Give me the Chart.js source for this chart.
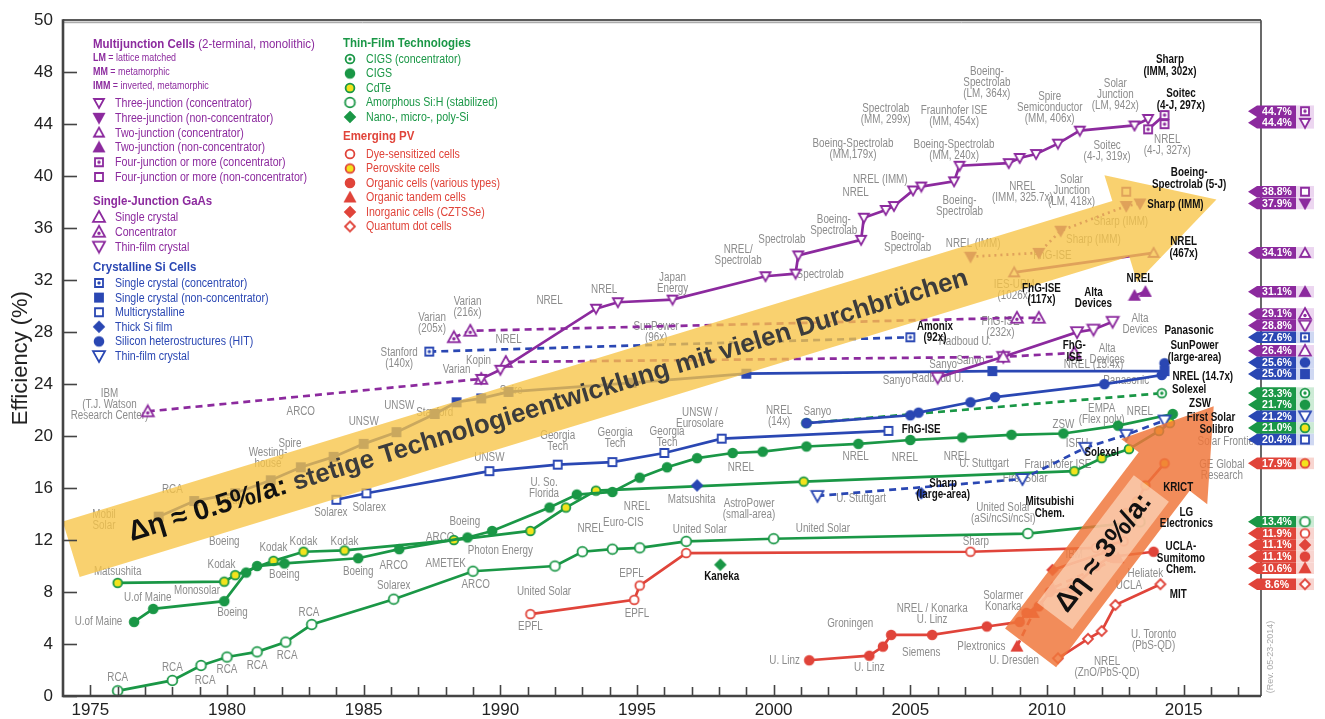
<!DOCTYPE html>
<html><head><meta charset="utf-8">
<script src="https://cdn.jsdelivr.net/npm/chart.js@4.4.1/dist/chart.umd.min.js"></script>
<style>html,body{margin:0;padding:0;background:#fff;}#wrap{width:1325px;height:719px;}</style>
</head><body><div id="wrap"><canvas id="c" width="1325" height="719"></canvas></div>
<script>
// ---------------- DATA (year, efficiency %) ----------------
const xTickYears = [1975,1980,1985,1990,1995,2000,2005,2010,2015];
const yTickValues = [0,4,8,12,16,20,24,28,32,36,40,44,48];

// Multijunction (purple)
const mj3Conc = [[1989.3,24.4],[1990.0,25.1],[1993.5,29.8],[1994.3,30.3],[1996.3,30.5],[1999.7,32.3],[2000.8,32.5],[2000.9,33.9],[2003.2,35.1],[2003.3,36.8],[2004.1,37.4],[2004.4,37.7],[2005.1,38.9],[2005.4,39.2],[2006.6,39.6],[2006.8,40.8],[2008.6,41.0],[2009.0,41.4],[2009.6,41.7],[2010.4,42.5],[2011.2,43.5],[2013.2,43.9],[2013.7,44.4]];
const mj4Conc = [[2013.7,43.6],[2014.3,44.7]];
const mj4ConcNrel = [[2014.3,44.0]];
const mj3NonConc = [[2007.2,33.8],[2009.7,34.1],[2010.5,35.8],[2012.9,37.7],[2013.4,37.9]];
const mj4NonConc = [[2012.9,38.8]];
const mj2Conc = [[2008.8,32.6],[2013.9,34.1]];
const mj2NonConc = [[2013.2,30.8],[2013.6,31.1]];
// Single-junction GaAs (purple)
const gaasConcDash = [[1977.1,21.9],[1989.3,24.4]];
const gaasConc = [[1988.3,27.6],[1988.9,28.1],[2008.9,29.1],[2009.7,29.1]];
const gaasSingle = [[1990.2,25.7],[2008.4,26.1],[2011.0,26.4]];
const gaasThin = [[2006.0,24.5],[2008.4,26.1],[2011.1,28.0],[2011.7,28.2],[2012.4,28.8]];
// Crystalline Si (blue)
const siConc = [[1987.4,26.5],[2005.0,27.6]];
const siSingle = [[1977.5,13.8],[1978.8,15.0],[1980.3,15.6],[1981.6,16.6],[1982.7,17.6],[1983.9,18.4],[1985.0,19.4],[1986.2,20.3],[1987.6,21.7],[1988.4,22.6],[1989.3,22.9],[1990.3,23.4],[1994.8,24.1],[1999.0,24.8],[2008.0,25.0],[2014.3,25.0]];
const siMulti = [[1984.0,15.1],[1985.1,15.6],[1989.6,17.3],[1992.1,17.8],[1994.1,18.0],[1996.0,18.7],[1998.1,19.8],[2004.2,20.4]];
const siThick = [[1997.2,16.2],[2005.4,15.6]];
const siHit = [[2001.2,21.0],[2005.0,21.6],[2005.3,21.8],[2007.2,22.6],[2008.1,23.0],[2012.1,24.0],[2014.2,24.7],[2014.3,25.6]];
const siThinFilm = [[2001.6,15.4],[2009.1,16.7],[2011.4,19.1],[2012.9,20.1],[2014.3,21.2]];
// Thin film (green)
const cigsConc = [[2001.2,21.0],[2014.2,23.3]];
const cigs = [[1976.6,5.7],[1977.3,6.7],[1979.9,7.3],[1980.7,9.5],[1981.1,10.0],[1982.1,10.2],[1984.8,10.6],[1986.3,11.3],[1988.8,12.2],[1989.7,12.7],[1991.8,14.5],[1992.8,15.5],[1994.1,15.7],[1995.1,16.8],[1996.1,17.6],[1997.2,18.3],[1998.5,18.7],[1999.6,18.8],[2001.2,19.2],[2003.1,19.4],[2005.0,19.7],[2006.9,19.9],[2008.7,20.1],[2010.6,20.2],[2012.6,20.8],[2014.6,21.7]];
const cdte = [[1976.0,8.7],[1979.9,8.8],[1980.3,9.3],[1981.7,10.4],[1982.8,11.1],[1984.3,11.2],[1988.3,12.0],[1991.1,12.7],[1992.4,14.5],[1993.5,15.8],[2001.1,16.5],[2011.0,17.3],[2012.0,18.3],[2013.0,19.0],[2014.1,20.4],[2014.5,21.0]];
const aSi = [[1976.0,0.4],[1978.0,1.2],[1979.05,2.35],[1980.0,3.0],[1981.1,3.4],[1982.15,4.15],[1983.1,5.5],[1986.1,7.45],[1989.0,9.6],[1992.0,10.0],[1993.0,11.1],[1994.1,11.3],[1995.1,11.4],[1996.8,11.9],[2000.0,12.1],[2009.3,12.5],[2013.4,13.4]];
const nanoSi = [[1998.05,10.1]];
// Emerging PV (red)
const dssc = [[1991.1,6.3],[1994.9,7.4],[1995.1,8.5],[1996.8,11.0],[2007.2,11.1],[2011.8,11.4],[2012.8,11.9]];
const perovskite = [[2012.9,14.1],[2013.3,15.0],[2013.6,16.2],[2014.3,17.9]];
const organic = [[2001.3,2.75],[2003.5,3.1],[2004.0,3.8],[2004.3,4.7],[2005.8,4.7],[2007.8,5.35],[2009.0,5.7],[2009.25,6.4],[2009.7,6.9],[2010.1,8.0],[2010.9,8.3],[2011.8,10.0],[2012.3,10.7],[2013.9,11.1]];
const organicTandem = [[2008.9,3.8],[2009.5,6.4],[2010.2,8.3],[2012.6,10.6]];
const czts = [[2010.2,9.7],[2012.2,11.1]];
const quantumDot = [[2010.4,2.9],[2011.5,4.4],[2012.0,5.0],[2012.5,7.0],[2014.15,8.6]];

// record flags on right axis: value, family, marker key
const flagValues = [44.7,44.4,38.8,37.9,34.1,31.1,29.1,28.8,27.6,26.4,25.6,25.0,23.3,21.7,21.2,21.0,20.4,17.9,13.4,11.9,11.1,11.1,10.6,8.6];
const flagFamilies = ['p','p','p','p','p','p','p','p','b','p','b','b','g','g','b','g','b','r','g','r','r','r','r','r'];
const flagMarkers = ['p4c','p3c','p4n','p3n','p2c','p2n','gaConc','gaTf','siConc','gaSc','siHit','siSc','cigsC','cigs','siTf','cdte','siMc','pero','asi','dssc','czts','org','orgT','qd'];

// trend arrows [year, eff]
const slowTrendFrom = [1974.3,11.3], slowTrendTo = [2016.2,38.2];
const fastTrendFrom = [2009.4,3.7], fastTrendTo = [2016.1,22.3];

// text labels [year, eff, text]
const grayLabels = [
[1976.0,1.4,'RCA'],[1978.0,2.2,'RCA'],[1979.2,1.2,'RCA'],[1980.0,2.0,'RCA'],[1981.1,2.3,'RCA'],[1982.2,3.1,'RCA'],[1983.0,6.4,'RCA'],
[1986.1,8.5,'Solarex'],[1989.1,8.6,'ARCO'],[1991.6,8.0,'United Solar'],[1991.1,5.3,'EPFL'],[1994.8,9.4,'EPFL'],[1995.0,6.3,'EPFL'],
[1977.1,7.6,'U.of Maine'],[1975.3,5.7,'U.of Maine'],[1978.9,8.1,'Monosolar'],[1980.2,6.4,'Boeing'],[1979.8,10.1,'Kodak'],[1976.0,9.6,'Matsushita'],
[1982.1,9.3,'Boeing'],[1984.8,9.6,'Boeing'],[1988.0,10.2,'AMETEK'],
[2000.4,2.75,'U. Linz'],[2003.5,2.2,'U. Linz'],[2002.8,5.6,'Groningen'],[2005.4,3.3,'Siemens'],[2005.8,6.3,'NREL / Konarka\nU. Linz'],
[2007.6,3.8,'Plextronics'],[2008.4,7.3,'Solarmer\nKonarka'],[2008.8,2.75,'U. Dresden'],[2012.2,2.2,'NREL\n(ZnO/PbS-QD)'],[2013.9,4.3,'U. Toronto\n(PbS-QD)'],
[2013.0,8.5,'UCLA'],[2013.6,9.4,'Heliatek'],
[2007.8,47.2,'Boeing-\nSpectrolab\n(LM, 364x)'],[2004.1,44.8,'Spectrolab\n(MM, 299x)'],[2006.6,44.6,'Fraunhofer ISE\n(MM, 454x)'],
[2010.1,45.3,'Spire\nSemiconductor\n(MM, 406x)'],[2012.5,46.3,'Solar\nJunction\n(LM, 942x)'],[2014.4,42.4,'NREL\n(4-J, 327x)'],[2012.2,41.9,'Soitec\n(4-J, 319x)'],
[2002.9,42.1,'Boeing-Spectrolab\n(MM,179x)'],[2006.6,42.0,'Boeing-Spectrolab\n(MM, 240x)'],[2003.9,39.7,'NREL (IMM)'],[2003.0,38.7,'NREL'],
[2009.1,38.8,'NREL\n(IMM, 325.7x)'],[2010.9,38.9,'Solar\nJunction\n(LM, 418x)'],[2006.8,37.7,'Boeing-\nSpectrolab'],[2002.2,36.2,'Boeing-\nSpectrolab'],
[2004.9,34.9,'Boeing-\nSpectrolab'],[2000.3,35.1,'Spectrolab'],[1998.7,33.9,'NREL/\nSpectrolab'],[2001.7,32.4,'Spectrolab'],[1996.3,31.8,'Japan\nEnergy'],
[1993.8,31.3,'NREL'],[1991.8,30.4,'NREL'],[1990.3,27.4,'NREL'],[1989.2,25.8,'Kopin'],[1988.4,25.1,'Varian'],[1987.5,28.7,'Varian\n(205x)'],[1988.8,29.9,'Varian\n(216x)'],
[1986.3,26.0,'Stanford\n(140x)'],[1975.7,22.4,'IBM\n(T.J. Watson\nResearch Center)'],[1995.7,28.0,'SunPower\n(96x)'],[2008.8,31.2,'IES-UPM\n(1026x)'],
[2006.0,24.4,'Radboud U.'],[2007.0,27.3,'Radboud U.'],[2008.3,28.4,'FhG-ISE\n(232x)'],[2013.4,28.6,'Alta\nDevices'],[2012.2,26.3,'Alta\nDevices'],[2012.9,24.3,'Panasonic'],
[2011.7,25.5,'NREL (15.4x)'],[2004.5,24.3,'Sanyo'],[2006.2,25.5,'Sanyo'],[2007.2,25.8,'Sanyo'],[2000.2,21.5,'NREL\n(14x)'],[2001.6,21.9,'Sanyo'],
[1997.3,21.4,'UNSW /\nEurosolare'],[1992.1,19.6,'Georgia\nTech'],[1994.2,19.8,'Georgia\nTech'],[1996.1,19.9,'Georgia\nTech'],[1989.6,18.3,'UNSW'],
[1983.8,14.1,'Solarex'],[1985.2,14.5,'Solarex'],[1998.8,17.6,'NREL'],[2003.0,18.4,'NREL'],[2004.8,18.3,'NREL'],[2006.7,18.4,'NREL'],
[2010.6,20.9,'ZSW'],[2012.0,21.7,'EMPA\n(Flex poly)'],[2013.4,21.9,'NREL'],[2011.1,19.4,'ISFH'],[2010.4,17.8,'Fraunhofer ISE'],[2007.7,17.9,'U. Stuttgart'],
[2003.2,15.2,'U. Stuttgart'],[2009.2,16.7,'First Solar'],[2016.4,17.4,'GE Global\nResearch'],[2016.6,19.6,'Solar Frontier'],
[2008.4,14.1,'United Solar\n(aSi/ncSi/ncSi)'],[1999.1,14.4,'AstroPower\n(small-area)'],[1997.0,15.1,'Matsushita'],[1991.6,16.0,'U. So.\nFlorida'],
[1993.3,12.9,'NREL'],[1994.5,13.3,'Euro-CIS'],[1995.0,14.6,'NREL'],[1990.0,11.2,'Photon Energy'],[1988.7,13.4,'Boeing'],[1987.8,12.2,'ARCO'],[1986.1,10.0,'ARCO'],
[1982.8,11.9,'Kodak'],[1984.3,11.9,'Kodak'],[1981.7,11.4,'Kodak'],[1979.9,11.9,'Boeing'],[1997.3,12.8,'United Solar'],[2001.8,12.9,'United Solar'],[2007.4,11.9,'Sharp'],
[1981.5,18.3,'Westing-\nhouse'],[1982.7,21.9,'ARCO'],[1985.0,21.1,'UNSW'],[1986.3,22.3,'UNSW'],[1987.6,21.8,'Stanford'],[1990.4,23.5,'Spire'],[1982.3,19.4,'Spire'],
[1978.0,15.9,'RCA'],[1980.1,15.0,'Sandia'],[1975.5,13.5,'Mobil\nSolar'],[2010.2,33.9,'FhG-ISE'],[2012.7,36.5,'Sharp (IMM)'],[2011.7,35.1,'Sharp (IMM)'],
[2007.3,34.8,'NREL (IMM)'],[2011.0,10.9,'IBM']
];
const boldLabels = [
[2014.5,48.5,'Sharp\n(IMM, 302x)'],[2014.9,45.9,'Soitec\n(4-J, 297x)'],[2015.2,39.8,'Boeing-\nSpectrolab (5-J)'],[2014.7,37.8,'Sharp (IMM)'],
[2015.0,34.5,'NREL\n(467x)'],[2013.4,32.1,'NREL'],[2009.8,30.9,'FhG-ISE\n(117x)'],[2011.7,30.6,'Alta\nDevices'],[2005.9,28.0,'Amonix\n(92x)'],
[2011.0,26.5,'FhG-\nISE'],[2015.2,28.1,'Panasonic'],[2015.4,26.5,'SunPower\n(large-area)'],[2015.7,24.6,'NREL (14.7x)'],[2015.2,23.6,'Solexel'],
[2015.6,22.5,'ZSW'],[2016.0,21.4,'First Solar'],[2016.2,20.5,'Solibro'],[2005.4,20.5,'FhG-ISE'],[2012.0,18.7,'Solexel'],[2006.2,15.9,'Sharp\n(large-area)'],
[2010.1,14.5,'Mitsubishi\nChem.'],[2014.8,16.0,'KRICT'],[2015.1,13.7,'LG\nElectronics'],[2014.9,10.6,'UCLA-\nSumitomo\nChem.'],[2014.8,7.8,'MIT'],[1998.1,9.2,'Kaneka']
];

// ---------------- STYLE ----------------
const PURPLE='#8c2a9e', BLUE='#2a47b3', GREEN='#1a9746', RED='#e0443a', YEL='#f3e31c';
const FAM = {p:[PURPLE,'#ecd6f0'], b:[BLUE,'#cfd8f2'], g:[GREEN,'#cdebd6'], r:[RED,'#f8d5d0']};
const FONT = '"Liberation Sans",Arial,sans-serif';

function mkMarker(shape, stroke, fill, dot, size){
  size = size || 10;
  const s = size + 4, c = document.createElement('canvas');
  c.width = s; c.height = s;
  const g = c.getContext('2d');
  g.translate(s/2, s/2); g.lineWidth = 1.8; g.strokeStyle = stroke; g.fillStyle = fill;
  const r = size/2;
  g.beginPath();
  if (shape==='circle') g.arc(0,0,r-0.6,0,Math.PI*2);
  else if (shape==='square') g.rect(-r+1,-r+1,size-2,size-2);
  else if (shape==='triUp'){g.moveTo(0,-r);g.lineTo(r,r*0.8);g.lineTo(-r,r*0.8);g.closePath();}
  else if (shape==='triDown'){g.moveTo(0,r);g.lineTo(r,-r*0.8);g.lineTo(-r,-r*0.8);g.closePath();}
  else if (shape==='diamond'){g.moveTo(0,-r);g.lineTo(r,0);g.lineTo(0,r);g.lineTo(-r,0);g.closePath();}
  g.fill(); g.stroke();
  if (dot){ g.beginPath(); g.fillStyle = stroke; g.arc(0, shape==='triUp'?1.5:(shape==='triDown'?-1.5:0), 1.7, 0, Math.PI*2); g.fill(); }
  return c;
}
const M = {
  p3c: mkMarker('triDown',PURPLE,'#fff'), p3n: mkMarker('triDown',PURPLE,PURPLE),
  p2c: mkMarker('triUp',PURPLE,'#fff'), p2n: mkMarker('triUp',PURPLE,PURPLE),
  p4c: mkMarker('square',PURPLE,'#fff',true), p4n: mkMarker('square',PURPLE,'#fff'),
  gaSc: mkMarker('triUp',PURPLE,'#fff',false,12), gaConc: mkMarker('triUp',PURPLE,'#fff',true,12), gaTf: mkMarker('triDown',PURPLE,'#fff',false,12),
  siConc: mkMarker('square',BLUE,'#fff',true), siSc: mkMarker('square',BLUE,BLUE), siMc: mkMarker('square',BLUE,'#fff'),
  siThick: mkMarker('diamond',BLUE,BLUE), siHit: mkMarker('circle',BLUE,BLUE), siTf: mkMarker('triDown',BLUE,'#fff',false,12),
  cigsC: mkMarker('circle',GREEN,'#fff',true), cigs: mkMarker('circle',GREEN,GREEN), cdte: mkMarker('circle',GREEN,YEL),
  asi: mkMarker('circle',GREEN,'#fff',false,11), nano: mkMarker('diamond',GREEN,GREEN),
  dssc: mkMarker('circle',RED,'#fff'), pero: mkMarker('circle',RED,YEL), org: mkMarker('circle',RED,RED),
  orgT: mkMarker('triUp',RED,RED), czts: mkMarker('diamond',RED,RED), qd: mkMarker('diamond',RED,'#fff')
};

function series(label, pts, color, marker, opt){
  opt = opt || {};
  return {
    label, data: pts.map(p=>({x:p[0], y:p[1]})),
    borderColor: color, backgroundColor: color, borderWidth: opt.w || 2.7,
    borderDash: opt.dash || [], showLine: opt.line !== false, tension: 0, fill: false,
    pointStyle: marker, pointRadius: 5, clip: false
  };
}
const DOT=[2,4], DASH=[7,5];
const datasets = [
  series('3J conc', mj3Conc, PURPLE, M.p3c),
  series('4J conc', mj4Conc, PURPLE, M.p4c),
  series('4J conc NREL', mj4ConcNrel, PURPLE, M.p4c, {line:false}),
  series('3J non-conc', mj3NonConc, PURPLE, M.p3n, {dash:DOT}),
  series('4J non-conc', mj4NonConc, PURPLE, M.p4n, {line:false}),
  series('2J conc', mj2Conc, PURPLE, M.p2c),
  series('2J non-conc', mj2NonConc, PURPLE, M.p2n),
  series('GaAs conc dash', gaasConcDash, PURPLE, M.gaConc, {dash:DASH}),
  series('GaAs conc', gaasConc, PURPLE, M.gaConc, {dash:DASH}),
  series('GaAs single', gaasSingle, PURPLE, M.gaSc, {dash:DASH}),
  series('GaAs thin', gaasThin, PURPLE, M.gaTf),
  series('Si conc', siConc, BLUE, M.siConc, {dash:DASH}),
  series('Si single', siSingle, BLUE, M.siSc),
  series('Si multi', siMulti, BLUE, M.siMc),
  series('Si thick', siThick, BLUE, M.siThick, {line:false}),
  series('Si HIT', siHit, BLUE, M.siHit),
  series('Si thin film', siThinFilm, BLUE, M.siTf, {dash:DASH}),
  series('CIGS conc', cigsConc, GREEN, M.cigsC, {dash:DASH}),
  series('CIGS', cigs, GREEN, M.cigs),
  series('CdTe', cdte, GREEN, M.cdte),
  series('a-Si', aSi, GREEN, M.asi),
  series('nano-Si', nanoSi, GREEN, M.nano, {line:false}),
  series('DSSC', dssc, RED, M.dssc),
  series('Perovskite', perovskite, RED, M.pero),
  series('Organic', organic, RED, M.org),
  series('Organic tandem', organicTandem, RED, M.orgT, {dash:DASH}),
  series('CZTSSe', czts, RED, M.czts),
  series('QD', quantumDot, RED, M.qd)
];

// ---------------- DRAW HELPERS ----------------
function nText(ctx, t, x, y, sx){ ctx.save(); ctx.translate(x, y); ctx.scale(sx, 1); ctx.fillText(t, 0, 0); ctx.restore(); }
function multi(ctx, text, x, y, lh, sx){
  const lines = text.split('\n');
  const y0 = y - (lines.length-1)*lh/2;
  lines.forEach((l,i)=>nText(ctx, l, x, y0 + i*lh, sx));
}
function arrowShape(ctx, p0, p1, hw, headHw, headLen){
  const dx=p1.x-p0.x, dy=p1.y-p0.y, L=Math.hypot(dx,dy), ux=dx/L, uy=dy/L, nx=-uy, ny=ux;
  const bx=p1.x-ux*headLen, by=p1.y-uy*headLen;
  ctx.beginPath();
  ctx.moveTo(p0.x+nx*hw,p0.y+ny*hw);
  ctx.lineTo(bx+nx*hw,by+ny*hw);
  ctx.lineTo(bx+nx*headHw,by+ny*headHw);
  ctx.lineTo(p1.x,p1.y);
  ctx.lineTo(bx-nx*headHw,by-ny*headHw);
  ctx.lineTo(bx-nx*hw,by-ny*hw);
  ctx.lineTo(p0.x-nx*hw,p0.y-ny*hw);
  ctx.closePath();
  return {ux,uy,ang:Math.atan2(dy,dx)};
}
const SX = 0.85;
function legendRow(ctx, marker, text, x, y, color){
  ctx.drawImage(marker, x - marker.width/2, y - marker.height/2);
  ctx.fillStyle = color; ctx.textAlign='left'; ctx.textBaseline='middle';
  ctx.font = '12.5px '+FONT;
  nText(ctx, text, x+16, y+0.5, SX);
}
function headRow(ctx, bold, rest, x, y, color, size){
  ctx.fillStyle = color; ctx.textAlign='left'; ctx.textBaseline='middle';
  ctx.font = 'bold '+size+'px '+FONT; nText(ctx, bold, x, y, SX);
  if (rest){ const w = ctx.measureText(bold).width*SX; ctx.font = size+'px '+FONT; nText(ctx, rest, x+w, y, SX); }
}

const overlay = {
  id: 'overlay',
  beforeDatasetsDraw(chart){
    const {ctx, scales:{x,y}} = chart;
    ctx.save();
    ctx.font = '12px '+FONT; ctx.fillStyle = '#8c8c8c'; ctx.textAlign='center'; ctx.textBaseline='middle';
    grayLabels.forEach(([yr,ef,t])=>multi(ctx, t, x.getPixelForValue(yr), y.getPixelForValue(ef), 11, 0.82));
    ctx.restore();
  },
  afterDatasetsDraw(chart){
    const {ctx, chartArea:ca, scales:{x,y}} = chart;
    const P = a => ({x:x.getPixelForValue(a[0]), y:y.getPixelForValue(a[1])});
    ctx.save();
    // slow trend arrow
    ctx.fillStyle = 'rgba(247,196,70,0.78)';
    const s0 = P(slowTrendFrom), s1 = P(slowTrendTo);
    const a1 = arrowShape(ctx, s0, s1, 29, 56, 100); ctx.fill();
    ctx.save();
    ctx.translate(s0.x + a1.ux*60, s0.y + a1.uy*60); ctx.rotate(a1.ang);
    ctx.textAlign='left'; ctx.textBaseline='middle';
    ctx.font = 'bold 28px '+FONT; ctx.fillStyle='#111';
    const lead = 'Δη ≈ 0.5%/a:'; ctx.fillText(lead, 0, 2);
    const lw = ctx.measureText(lead).width;
    ctx.font = 'bold 26px '+FONT; ctx.fillStyle='#3c3c3c';
    ctx.fillText(' stetige Technologieentwicklung mit vielen Durchbrüchen', lw, 2);
    ctx.restore();
    // fast trend arrow
    ctx.fillStyle = 'rgba(240,118,58,0.84)';
    const f0 = P(fastTrendFrom), f1 = P(fastTrendTo);
    const a2 = arrowShape(ctx, f0, f1, 32, 54, 82); ctx.fill();
    ctx.save();
    ctx.translate(f0.x + a2.ux*120, f0.y + a2.uy*120); ctx.rotate(a2.ang);
    ctx.fillStyle = 'rgba(255,232,210,0.6)'; ctx.fillRect(-80,-22,160,44);
    ctx.textAlign='center'; ctx.textBaseline='middle';
    ctx.font = 'bold 28px '+FONT; ctx.fillStyle='#111';
    ctx.fillText('Δη ≈ 3%/a:', 0, 1);
    ctx.restore();

    // bold labels
    ctx.font = 'bold 12px '+FONT; ctx.fillStyle = '#111'; ctx.textAlign='center'; ctx.textBaseline='middle';
    boldLabels.forEach(([yr,ef,t])=>multi(ctx, t, x.getPixelForValue(yr), y.getPixelForValue(ef), 11.5, 0.82));

    // frame
    ctx.strokeStyle = '#5a5a5a'; ctx.lineWidth = 2.2;
    ctx.beginPath(); ctx.moveTo(ca.left, ca.top); ctx.lineTo(ca.right, ca.top); ctx.stroke();
    ctx.strokeStyle = '#999'; ctx.lineWidth = 1;
    ctx.beginPath(); ctx.moveTo(ca.left, ca.top+2.5); ctx.lineTo(ca.right, ca.top+2.5); ctx.stroke();
    ctx.strokeStyle = '#444'; ctx.lineWidth = 1.6;
    ctx.beginPath(); ctx.moveTo(ca.right, ca.top); ctx.lineTo(ca.right, ca.bottom); ctx.stroke();
    ctx.lineWidth = 2.6;
    ctx.beginPath(); ctx.moveTo(ca.left, ca.top-1); ctx.lineTo(ca.left, ca.bottom); ctx.lineTo(ca.right, ca.bottom); ctx.stroke();
    ctx.lineWidth = 1.6;
    for (let yr=1975; yr<=2017; yr++){
      const px = Math.round(x.getPixelForValue(yr))+0.5, len = yr%5===0 ? 11 : 9;
      ctx.beginPath(); ctx.moveTo(px, ca.bottom); ctx.lineTo(px, ca.bottom-len); ctx.stroke();
    }
    yTickValues.forEach(v=>{ const py=Math.round(y.getPixelForValue(v))+0.5; ctx.beginPath(); ctx.moveTo(ca.left, py); ctx.lineTo(ca.left+14, py); ctx.stroke(); });

    // legend column 1
    headRow(ctx,'Multijunction Cells',' (2-terminal, monolithic)',93,44,PURPLE,13.5);
    headRow(ctx,'LM',' = lattice matched',93,58,PURPLE,10.5);
    headRow(ctx,'MM',' = metamorphic',93,72,PURPLE,10.5);
    headRow(ctx,'IMM',' = inverted, metamorphic',93,86,PURPLE,10.5);
    [['p3c','Three-junction (concentrator)'],['p3n','Three-junction (non-concentrator)'],['p2c','Two-junction (concentrator)'],
     ['p2n','Two-junction (non-concentrator)'],['p4c','Four-junction or more (concentrator)'],['p4n','Four-junction or more (non-concentrator)']]
      .forEach((r,i)=>legendRow(ctx, M[r[0]], r[1], 99, 103+i*14.8, PURPLE));
    headRow(ctx,'Single-Junction GaAs','',93,201,PURPLE,13.5);
    [['gaSc','Single crystal'],['gaConc','Concentrator'],['gaTf','Thin-film crystal']].forEach((r,i)=>legendRow(ctx, M[r[0]], r[1], 99, 217+i*14.8, PURPLE));
    headRow(ctx,'Crystalline Si Cells','',93,267,BLUE,13.5);
    [['siConc','Single crystal (concentrator)'],['siSc','Single crystal (non-concentrator)'],['siMc','Multicrystalline'],['siThick','Thick Si film'],
     ['siHit','Silicon heterostructures (HIT)'],['siTf','Thin-film crystal']].forEach((r,i)=>legendRow(ctx, M[r[0]], r[1], 99, 283+i*14.6, BLUE));
    // legend column 2
    headRow(ctx,'Thin-Film Technologies','',343,43,GREEN,13.5);
    [['cigsC','CIGS (concentrator)'],['cigs','CIGS'],['cdte','CdTe'],['asi','Amorphous Si:H (stabilized)'],['nano','Nano-, micro-, poly-Si']]
      .forEach((r,i)=>legendRow(ctx, M[r[0]], r[1], 350, 59+i*14.5, GREEN));
    headRow(ctx,'Emerging PV','',343,136,RED,13.5);
    [['dssc','Dye-sensitized cells'],['pero','Perovskite cells'],['org','Organic cells (various types)'],['orgT','Organic tandem cells'],
     ['czts','Inorganic cells (CZTSSe)'],['qd','Quantum dot cells']].forEach((r,i)=>legendRow(ctx, M[r[0]], r[1], 350, 154+i*14.5, RED));

    // record flags
    const H = 11.6;
    let items = flagValues.map((v,i)=>({v, fam:flagFamilies[i], mk:flagMarkers[i], d:y.getPixelForValue(v)}));
    items.sort((a,b)=>a.d-b.d);
    let groups = items.map(it=>({list:[it]}));
    const place = g => { const c = g.list.reduce((s,it)=>s+it.d,0)/g.list.length; g.top = c - H*g.list.length/2; };
    groups.forEach(place);
    let merged = true;
    while (merged){
      merged = false;
      for (let i=1;i<groups.length;i++){
        const a=groups[i-1], b=groups[i];
        if (b.top < a.top + a.list.length*H){ a.list = a.list.concat(b.list); place(a); groups.splice(i,1); merged = true; break; }
      }
    }
    groups.forEach(g=>g.list.forEach((it,k)=>{
      const yc = g.top + H*k + H/2, [col,tint] = FAM[it.fam];
      const xr = ca.right;
      ctx.fillStyle = col;
      ctx.beginPath(); ctx.moveTo(xr-13, yc); ctx.lineTo(xr-4, yc-H/2); ctx.lineTo(xr+35, yc-H/2); ctx.lineTo(xr+35, yc+H/2); ctx.lineTo(xr-4, yc+H/2); ctx.closePath(); ctx.fill();
      ctx.fillStyle = tint; ctx.fillRect(xr+35, yc-H/2, 18, H);
      const m = M[it.mk]; ctx.drawImage(m, xr+44-m.width/2, yc-m.height/2);
      ctx.fillStyle = '#fff'; ctx.font = 'bold 10.5px '+FONT; ctx.textAlign='center'; ctx.textBaseline='middle';
      ctx.fillText(it.v.toFixed(1)+'%', xr+16, yc+0.5);
    }));

    // revision note
    ctx.save(); ctx.translate(ca.right+10, y.getPixelForValue(3)); ctx.rotate(-Math.PI/2);
    ctx.font = '9px '+FONT; ctx.fillStyle='#aaa'; ctx.textAlign='center'; ctx.textBaseline='middle';
    ctx.fillText('(Rev. 05-23-2014)', 0, 0); ctx.restore();
    ctx.restore();
  }
};

new Chart(document.getElementById('c'), {
  type: 'line',
  data: { datasets },
  options: {
    responsive: false, animation: false, devicePixelRatio: 1,
    layout: { padding: { left: 0, right: 64, top: 15, bottom: 0 } },
    plugins: { legend: { display: false }, tooltip: { enabled: false } },
    elements: { line: { borderCapStyle: 'butt' } },
    scales: {
      x: {
        type: 'linear', min: 1974, max: 2017.83,
        grid: { display: false, drawTicks: false, tickLength: 0 }, border: { display: false },
        afterBuildTicks: s => { s.ticks = xTickYears.map(v=>({value:v})); },
        afterFit: s => { s.height = 23; },
        ticks: { autoSkip: false, maxRotation: 0, padding: 4, color: '#222', font: { family: FONT, size: 17 }, callback: v => String(v) }
      },
      y: {
        type: 'linear', min: 0, max: 52,
        grid: { display: false, drawTicks: false, tickLength: 0 }, border: { display: false },
        afterBuildTicks: s => { s.ticks = yTickValues.concat([52]).map(v=>({value:v})); },
        afterFit: s => { s.width = 63; },
        ticks: { padding: 10, color: '#222', font: { family: FONT, size: 17 }, callback: v => v === 52 ? '50' : String(v) },
        title: { display: true, text: 'Efficiency (%)', color: '#222', padding: { top: 8 }, font: { family: FONT, size: 22 } }
      }
    }
  },
  plugins: [overlay]
});
</script></body></html>
